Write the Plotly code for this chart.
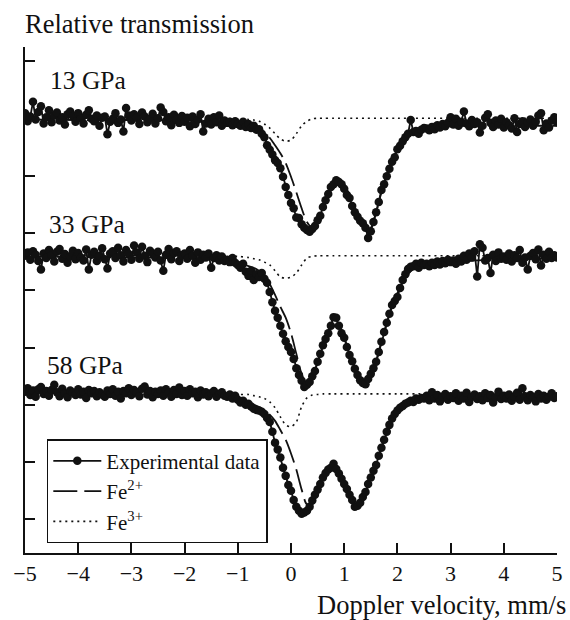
import numpy as np
import plotly.graph_objects as go

# ---------------- data (relative transmission, %) ----------------
VELOCITY = np.round(np.linspace(-5.0, 5.0, 201), 2)   # channel grid, mm/s

T13_LEFT = [100.12, 99.98, 100.06, 100.32, 100.01, 100.14, 100.24, 99.94, 100.05, 100.17,
            99.96, 100.08, 100.13, 99.99, 100.05, 99.92, 100.10, 100.15, 100.07, 99.97,
            100.12, 100.03, 99.94, 100.09, 100.17, 100.02, 99.98, 100.08, 99.90, 100.04,
            100.06, 99.75, 99.97, 100.02, 100.12, 99.95, 100.01, 99.80, 100.21, 100.08,
            99.99, 100.10, 100.04, 99.93, 100.13, 100.06, 99.96, 100.02, 100.11, 99.94,
            100.03, 100.22, 100.14, 99.98, 100.05, 99.91, 100.09, 100.00, 99.95, 100.07,
            99.97, 100.04, 99.89, 100.06, 99.93, 100.01, 100.10, 99.80, 99.94, 100.02,
            99.92, 100.05, 99.96, 100.08, 99.90, 99.99]
T13_DIP = [99.95, 99.97, 99.91, 99.98, 99.93, 99.90, 99.97, 99.88, 99.93, 99.86,
           99.90, 99.83, 99.84, 99.76, 99.70, 99.56, 99.48, 99.40, 99.30, 99.25,
           99.16, 99.01, 98.83, 98.69, 98.55, 98.46, 98.30, 98.29, 98.18, 98.12,
           98.08, 98.05, 98.10, 98.15, 98.25, 98.33, 98.48, 98.60, 98.71, 98.83,
           98.88, 98.95, 98.92, 98.88, 98.80, 98.69, 98.64, 98.50, 98.39, 98.31,
           98.24, 98.20, 98.12, 97.94, 98.06, 98.22, 98.39, 98.57, 98.78, 98.88,
           99.02, 99.15, 99.27, 99.35, 99.49, 99.55, 99.63, 99.70, 99.76, 100.00,
           99.79, 99.81, 99.76, 99.83, 99.86]
T13_RIGHT = [99.85, 99.82, 99.88, 99.84, 99.91, 99.87, 99.93, 99.89, 99.95, 100.05,
             99.92, 100.02, 99.90, 99.97, 100.15, 99.94, 99.89, 100.00, 99.93, 99.96,
             99.78, 99.90, 100.04, 100.10, 99.95, 99.88, 99.99, 99.92, 100.02, 99.87,
             99.96, 99.91, 99.85, 100.03, 99.79, 99.93, 99.98, 99.88, 99.95, 100.01,
             99.90, 99.97, 100.08, 100.12, 99.82, 99.94, 99.87, 99.99, 100.05, 99.96]

T33_LEFT = [100.02, 100.08, 99.95, 100.10, 100.04, 99.93, 99.78, 100.06, 99.98, 100.12,
            100.03, 99.92, 100.09, 100.14, 99.97, 100.05, 99.90, 100.01, 100.11, 99.96,
            100.07, 99.99, 99.94, 100.13, 99.78, 100.04, 100.09, 99.93, 100.02, 100.15,
            99.96, 99.80, 100.06, 100.10, 99.98, 100.16, 100.03, 99.92, 100.12, 100.05,
            99.95, 100.20, 100.08, 99.97, 100.18, 100.02, 99.91, 100.11, 100.06, 99.99,
            100.09, 99.94, 99.76, 100.04, 100.14, 99.96, 100.07, 100.10, 99.93, 100.03,
            100.06, 99.97, 100.12, 100.02, 99.90, 100.08, 99.95, 100.04, 99.99, 100.06,
            99.81, 99.98, 100.03, 99.94, 100.01, 99.93]
T33_DIP = [99.95, 99.91, 99.98, 99.90, 99.86, 99.81, 99.88, 99.74, 99.67, 99.76,
           99.60, 99.70, 99.65, 99.72, 99.62, 99.55, 99.39, 99.21, 99.06, 98.94,
           98.80, 98.66, 98.53, 98.43, 98.34, 98.22, 98.06, 97.94, 97.84, 97.73,
           97.77, 97.82, 97.92, 98.01, 98.17, 98.31, 98.46, 98.57, 98.67, 98.80,
           98.95, 98.94, 98.80, 98.67, 98.59, 98.43, 98.29, 98.18, 98.05, 97.94,
           97.85, 97.80, 97.78, 97.87, 97.96, 98.06, 98.17, 98.34, 98.52, 98.69,
           98.85, 99.01, 99.16, 99.23, 99.30, 99.46, 99.60, 99.70, 99.79, 99.83,
           99.84, 99.88, 99.81, 99.90, 99.86]
T33_RIGHT = [99.88, 99.84, 99.90, 99.86, 99.92, 99.87, 99.93, 99.89, 99.95, 99.91,
             99.94, 99.88, 99.97, 99.92, 100.02, 99.95, 100.06, 99.99, 100.10, 99.66,
             100.22, 100.16, 99.94, 99.98, 99.72, 100.04, 99.93, 100.08, 99.97, 100.01,
             99.95, 100.06, 99.92, 100.03, 99.98, 100.12, 99.90, 99.99, 99.78, 100.02,
             100.07, 99.96, 100.13, 99.85, 100.04, 99.97, 100.09, 99.98, 100.03, 99.99]

T58_LEFT = [100.02, 100.08, 99.96, 100.04, 99.93, 100.06, 100.10, 99.98, 100.03, 99.95,
            100.05, 100.14, 100.01, 99.94, 100.07, 99.99, 99.92, 100.04, 100.00, 99.96,
            100.06, 99.97, 100.02, 99.91, 100.05, 99.99, 100.03, 99.94, 100.01, 99.97,
            99.93, 100.04, 99.98, 100.06, 99.95, 100.02, 99.90, 100.03, 99.99, 100.08,
            99.96, 100.05, 100.01, 99.94, 100.07, 100.11, 99.97, 100.03, 99.92, 100.02,
            99.98, 100.04, 99.95, 100.06, 100.00, 99.93, 100.05, 99.98, 100.09, 99.96,
            100.03, 99.95, 100.06, 99.99, 100.02, 99.92, 100.04, 99.97, 100.01, 99.94,
            99.99, 100.03, 99.93, 99.98, 100.01, 99.95]
T58_DIP = [99.93, 99.97, 99.90, 99.95, 99.88, 99.83, 99.86, 99.79, 99.81, 99.76,
           99.72, 99.70, 99.69, 99.67, 99.63, 99.56, 99.49, 99.32, 99.13, 99.01,
           98.87, 98.69, 98.55, 98.39, 98.29, 98.13, 98.01, 97.94, 97.89, 97.91,
           97.94, 98.01, 98.12, 98.22, 98.31, 98.41, 98.52, 98.60, 98.66, 98.69,
           98.76, 98.67, 98.59, 98.50, 98.41, 98.32, 98.22, 98.13, 98.01, 98.03,
           98.08, 98.18, 98.27, 98.41, 98.52, 98.64, 98.74, 98.90, 99.04, 99.18,
           99.32, 99.44, 99.55, 99.63, 99.69, 99.74, 99.77, 99.81, 99.83, 99.86,
           99.84, 99.90, 99.88, 99.91, 99.90]
T58_RIGHT = [99.95, 99.87, 100.01, 99.90, 99.96, 99.85, 99.93, 99.98, 99.88, 99.94,
             99.91, 99.99, 99.86, 99.95, 99.90, 100.00, 99.84, 99.93, 99.97, 99.89,
             99.94, 99.87, 99.99, 99.91, 99.96, 99.83, 99.92, 100.02, 99.89, 99.95,
             99.90, 99.97, 99.86, 99.93, 100.00, 99.88, 100.08, 99.94, 99.87, 99.96,
             99.92, 99.85, 99.98, 99.90, 99.95, 99.88, 99.93, 99.99, 99.91, 99.94]

# fitted components
FE2_V = [-5.0, -4.0, -3.0, -2.0, -1.6, -1.3, -1.1, -1.0, -0.9, -0.8, -0.7, -0.6, -0.5,
         -0.4, -0.3, -0.2, -0.1, 0.0, 0.1, 0.2, 0.3, 0.4, 0.5, 0.6, 0.7, 0.8, 0.9, 1.0,
         1.1, 1.2, 1.3, 1.4, 1.5, 1.6, 1.7, 1.8, 1.9, 2.0, 2.1, 2.2, 2.3, 2.4, 2.6, 2.8,
         3.0, 3.5, 4.0, 5.0]
FE2_13 = [100.01, 100.00, 100.00, 99.99, 99.98, 99.97, 99.95, 99.94, 99.92, 99.90, 99.88,
          99.84, 99.77, 99.69, 99.56, 99.42, 99.25, 99.01, 98.74, 98.46, 98.22, 98.12,
          98.20, 98.43, 98.67, 98.85, 98.92, 98.87, 98.69, 98.45, 98.22, 98.08, 98.12,
          98.39, 98.74, 99.04, 99.28, 99.48, 99.62, 99.72, 99.79, 99.83, 99.86, 99.88,
          99.89, 99.90, 99.90, 99.90]
FE2_33 = [100.00, 100.00, 99.99, 99.98, 99.97, 99.96, 99.93, 99.91, 99.88, 99.84, 99.81,
          99.76, 99.70, 99.53, 99.34, 99.13, 98.94, 98.67, 98.31, 97.96, 97.78, 97.89,
          98.17, 98.45, 98.69, 98.88, 98.83, 98.60, 98.31, 98.06, 97.87, 97.80, 97.92,
          98.18, 98.52, 98.85, 99.14, 99.37, 99.56, 99.70, 99.79, 99.84, 99.89, 99.90,
          99.92, 99.94, 99.96, 99.97]
FE2_58 = [100.00, 99.99, 99.98, 99.97, 99.95, 99.93, 99.90, 99.89, 99.86, 99.83, 99.79,
          99.75, 99.69, 99.62, 99.51, 99.35, 99.18, 98.94, 98.66, 98.31, 98.05, 98.05,
          98.27, 98.50, 98.66, 98.74, 98.62, 98.43, 98.24, 98.06, 98.06, 98.24, 98.50,
          98.76, 99.06, 99.32, 99.53, 99.67, 99.76, 99.81, 99.84, 99.87, 99.89, 99.90,
          99.90, 99.91, 99.91, 99.91]

FE3_V = [-5.0, -3.0, -1.5, -1.0, -0.8, -0.7, -0.6, -0.5, -0.4, -0.3, -0.2, -0.1, 0.0,
         0.1, 0.2, 0.3, 0.4, 0.5, 0.6, 0.8, 1.2, 2.0, 3.5, 5.0]
FE3_13 = [100.03, 100.03, 100.03, 100.02, 100.01, 100.00, 99.98, 99.93, 99.86, 99.76,
          99.67, 99.63, 99.65, 99.76, 99.90, 99.98, 100.02, 100.03, 100.03, 100.03,
          100.03, 100.03, 100.03, 100.03]
FE3_33 = [100.02, 100.02, 100.02, 100.01, 99.99, 99.97, 99.95, 99.91, 99.86, 99.76,
          99.65, 99.63, 99.65, 99.72, 99.86, 99.98, 100.01, 100.02, 100.02, 100.02,
          100.02, 100.02, 100.02, 100.02]
FE3_58 = [99.98, 99.98, 99.98, 99.97, 99.97, 99.95, 99.93, 99.90, 99.84, 99.74,
          99.58, 99.44, 99.41, 99.49, 99.76, 99.91, 99.96, 99.97, 99.98, 99.98,
          99.98, 99.98, 99.98, 99.98]

PRESSURES = ["13 GPa", "33 GPa", "58 GPa"]
OFFSETS = [-92.03, -94.42, -96.79]        # vertical stacking of the spectra
X_TICKS = [-5, -4, -3, -2, -1, 0, 1, 2, 3, 4, 5]
X_TICKTEXT = ["\u22125", "\u22124", "\u22123", "\u22122", "\u22121", "0", "1", "2", "3", "4", "5"]

SPECTRA = [T13_LEFT + T13_DIP + T13_RIGHT,
           T33_LEFT + T33_DIP + T33_RIGHT,
           T58_LEFT + T58_DIP + T58_RIGHT]
FE2 = [FE2_13, FE2_33, FE2_58]
FE3 = [FE3_13, FE3_33, FE3_58]

# ---------------- figure ----------------
FONT = "Liberation Serif, Times New Roman, serif"
INK = "#111111"
fig = go.Figure()

for i in range(3):
    off = OFFSETS[i]
    fig.add_trace(go.Scatter(
        x=FE3_V, y=[v + off for v in FE3[i]], mode="lines",
        line=dict(color=INK, width=1.6, dash="2px,4px", shape="spline", smoothing=0.8),
        name="Fe<sup>3+</sup>", legendrank=3, showlegend=(i == 0)))
    fig.add_trace(go.Scatter(
        x=FE2_V, y=[v + off for v in FE2[i]], mode="lines",
        line=dict(color=INK, width=1.8, dash="24px,7px", shape="spline", smoothing=0.8),
        name="Fe<sup>2+</sup>", legendrank=2, showlegend=(i == 0)))
for i in range(3):
    off = OFFSETS[i]
    fig.add_trace(go.Scatter(
        x=VELOCITY, y=[v + off for v in SPECTRA[i]], mode="lines+markers",
        line=dict(color=INK, width=1.8),
        marker=dict(color=INK, size=8.5),
        name="Experimental data", legendrank=1, showlegend=(i == 0)))

label_y = [0.933, 0.650, 0.370]
label_x = [0.043, 0.041, 0.037]
for i, p in enumerate(PRESSURES):
    fig.add_annotation(x=label_x[i], y=label_y[i], xref="paper", yref="paper",
                       text=p, showarrow=False, xanchor="left", yanchor="middle",
                       font=dict(size=25.5, color=INK, family=FONT))

fig.add_annotation(x=-0.003, y=1.045, xref="paper", yref="paper",
                   text="Relative transmission", showarrow=False,
                   xanchor="left", yanchor="middle",
                   font=dict(size=26.5, color=INK, family=FONT))
fig.add_annotation(x=1.02, y=-0.103, xref="paper", yref="paper",
                   text="Doppler velocity, mm/s", showarrow=False,
                   xanchor="right", yanchor="middle",
                   font=dict(size=26.5, color=INK, family=FONT))

fig.update_layout(
    width=570, height=620,
    margin=dict(l=25, r=7, t=47, b=67),
    paper_bgcolor="white", plot_bgcolor="white",
    font=dict(family=FONT, color=INK),
    legend=dict(x=0.041, y=0.225, xanchor="left", yanchor="top",
                bordercolor=INK, borderwidth=1.5, bgcolor="white",
                font=dict(size=21, family=FONT, color=INK),
                itemwidth=48, tracegroupgap=0),
    xaxis=dict(range=[-5, 5], tickvals=X_TICKS, ticktext=X_TICKTEXT,
               ticks="inside", ticklen=10, tickwidth=1.5, tickcolor=INK,
               showline=True, linecolor=INK, linewidth=1.5,
               showgrid=False, zeroline=False,
               tickfont=dict(size=22, family=FONT, color=INK)),
    yaxis=dict(range=[0.414, 9.244], tickvals=list(range(1, 10)),
               showticklabels=False,
               ticks="inside", ticklen=10, tickwidth=1.5, tickcolor=INK,
               showline=True, linecolor=INK, linewidth=1.5,
               showgrid=False, zeroline=False),
)

fig.write_html("out.html")
